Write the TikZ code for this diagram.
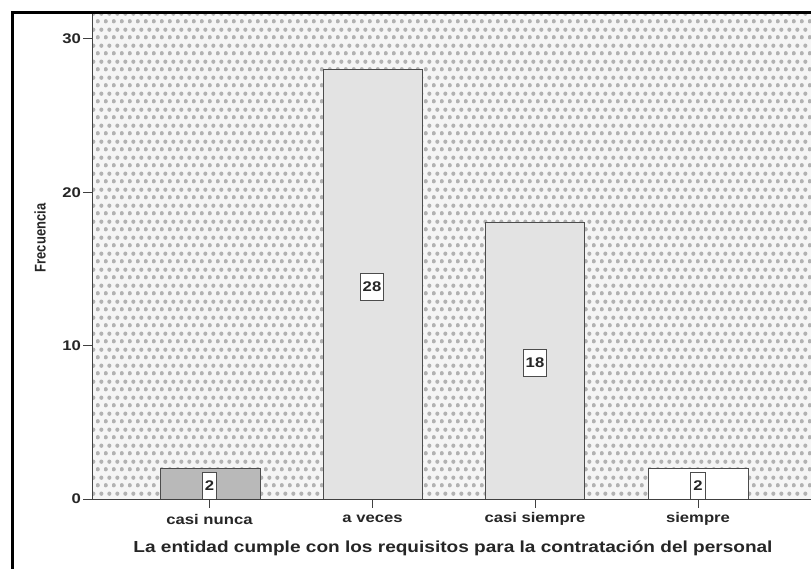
\documentclass[tikz,border=0pt]{standalone}
\usepackage{fontspec}
\setmainfont{Liberation Sans}
\usetikzlibrary{patterns}
\pgfdeclarepatternformonly{spssdots}{\pgfpointorigin}{\pgfqpoint{8pt}{16pt}}{\pgfqpoint{8pt}{16pt}}{%
  \pgfpathcircle{\pgfqpoint{2pt}{4pt}}{2.3pt}%
  \pgfpathcircle{\pgfqpoint{6pt}{12pt}}{2.3pt}%
  \pgfusepath{fill}}
\newcommand{\hs}[1]{\scalebox{1.19}[1]{#1}}
\tikzset{
  barline/.style={draw=black!70, line width=1pt},
  axisline/.style={draw=black!75, line width=1pt},
  valbox/.style={draw=black!70, fill=white, line width=0.8pt, inner xsep=2.5pt, inner ysep=0pt, minimum height=27pt, font=\fontsize{14}{16}\selectfont\bfseries, text=black!85},
  ticklab/.style={font=\fontsize{14}{16}\selectfont\bfseries, text=black!85},
  titlelab/.style={font=\fontsize{16}{18}\selectfont\bfseries, text=black!85}
}
\begin{document}
\begin{tikzpicture}[x=1pt, y=-1pt]
\useasboundingbox (0,0) rectangle (811,569);
\fill[white] (0,0) rectangle (811,569);
% plot area
\fill[gray!8] (92,14) rectangle (811,499);
\fill[pattern=spssdots, pattern color=gray!60] (92,14) rectangle (811,499);
% bars
\draw[barline, fill=gray!55] (160,499) rectangle (260,468.3);
\draw[barline, fill=gray!22] (323,499) rectangle (422,69.7);
\draw[barline, fill=gray!22] (485,499) rectangle (584,223);
\draw[barline, fill=white] (648,499) rectangle (748,468.3);
% value labels
\node[valbox] (v1) at (209.5,486) {\hs{2}};
\node[valbox] (v2) at (372,287) {\hs{28}};
\node[valbox] (v3) at (535,363) {\hs{18}};
\node[valbox] (v4) at (698,486) {\hs{2}};
% axes
\draw[axisline] (92,14) -- (92,499) -- (811,499);
\foreach \v/\yy in {0/499,10/345.7,20/192.3,30/39}{
  \draw[axisline] (83,\yy) -- (92,\yy);
  \node[ticklab, anchor=east, inner sep=1pt] (yt\v) at (82,\yy) {\hs{\v}};
}
\foreach \xx in {209.5,372.5,535,698}{
  \draw[axisline] (\xx,499) -- (\xx,508);
}
\node[ticklab] (c1) at (209.5,519) {\hs{casi nunca}};
\node[ticklab] (c2) at (372.5,519) {\hs{a veces}};
\node[ticklab] (c3) at (535,519) {\hs{casi siempre}};
\node[ticklab] (c4) at (698,519) {\hs{siempre}};
\node[titlelab] (xtitle) at (453,548) {\hs{La entidad cumple con los requisitos para la contratación del personal}};
\node[font=\fontsize{13}{15}\selectfont\bfseries, text=black!85, rotate=90] (ytitle) at (40,238) {\scalebox{1}[1.19]{Frecuencia}};
% frame
\draw[line width=3pt, black] (12,569) -- (12,13) -- (811,13);
\end{tikzpicture}
\end{document}
